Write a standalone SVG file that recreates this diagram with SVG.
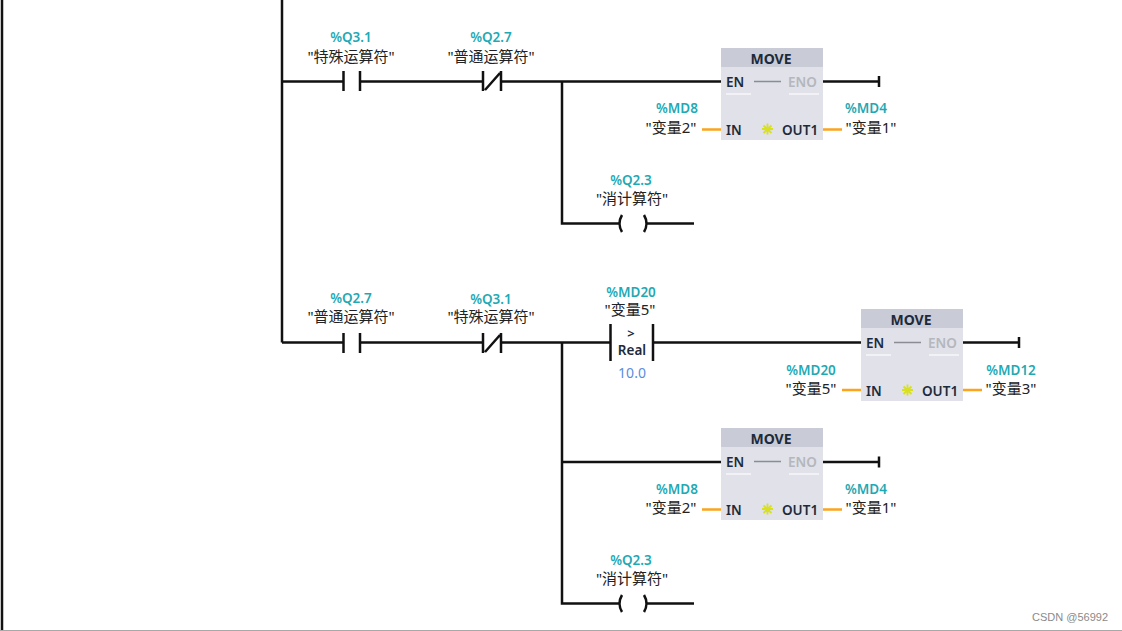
<svg xmlns="http://www.w3.org/2000/svg" width="1122" height="631" viewBox="0 0 1122 631">
<defs>
<style>
text{font-family:"Noto Sans","Noto Sans CJK SC","Liberation Sans",sans-serif}
.w{fill:none;stroke:#111;stroke-width:2.5}
.o{fill:none;stroke:#fca41c;stroke-width:2.5}
.addr{font-size:13.5px;font-weight:600;fill:#1fa9b4;text-anchor:middle}
.name{font-size:15px;fill:#222;text-anchor:middle}
.pin{font-size:13.5px;font-weight:600;fill:#1d2a3a}
.off{font-size:13.5px;font-weight:600;fill:#b4b7bc}
.title{font-size:14px;font-weight:700;fill:#1d2a3a;text-anchor:middle}
</style>
<g id="moveBlock">
<rect x="0" y="0" width="102" height="92" fill="#e0e1e9"/>
<rect x="0" y="0" width="102" height="19" fill="#c9cbd6"/>
<text class="title" x="50" y="16">MOVE</text>
<text class="pin" x="5" y="39">EN</text>
<path d="M33 33.500H60" stroke="#8a8d92" stroke-width="1.500"/>
<text class="off" x="67" y="39">ENO</text>
<path d="M5 46H30M68 46H98" stroke="#f7f7fa" stroke-width="1.500"/>
<text class="pin" x="5" y="87">IN</text>
<text class="pin" x="61" y="87">OUT1</text>
<path d="M41 81H52M46.500 75.500V86.500M42.500 77.500L50.500 85M50.500 77.500L42.500 85" stroke="#d8e020" stroke-width="1.800"/>
</g>
</defs>
<rect width="1122" height="631" fill="#fff"/>
<g id="connectors">
<path class="w" d="M2 0V631M282 0V342.500M282 81.500H344M360 81.500H483M501 81.500H721M562 81.500V223.500H619M647 223.500H694M823 81.500H879M879 76V87"/>
<path class="w" d="M282 342.500H344M360 342.500H483M501 342.500H610M653 342.500H861M963 342.500H1019M1019 337V348M562 342.500V603.500H619M647 603.500H694M562 462H721M823 462H879M879 456.500V467.500"/>
<path class="o" d="M702 129.500H721M823 129.500H842M842 390H861M963 390H982M702 509.500H721M823 509.500H842"/>
</g>
<g id="contact-q31">
<text class="addr" x="351" y="42">%Q3.1</text><text class="name" x="351" y="62">"特殊运算符"</text>
<path class="w" d="M343.500 71V91M360 71V91"/>
</g>
<g id="contact-q27-nc">
<text class="addr" x="491" y="42">%Q2.7</text><text class="name" x="491" y="62">"普通运算符"</text>
<path class="w" d="M483 71V91M501 71V91M485 90L500 73"/>
</g>
<g id="block-1"><use href="#moveBlock" x="721" y="48"/>
<text class="addr" x="677" y="113">%MD8</text><text class="name" x="671" y="133">"变量2"</text>
<text class="addr" x="866" y="113">%MD4</text><text class="name" x="871" y="133">"变量1"</text>
</g>
<g id="coil-1">
<text class="addr" x="631" y="185">%Q2.3</text><text class="name" x="632" y="204">"消计算符"</text>
<path class="w" d="M622 215Q617 223.500 622 232M644 215Q649 223.500 644 232"/>
</g>
<g id="contact-q27">
<text class="addr" x="351" y="303">%Q2.7</text><text class="name" x="351" y="322">"普通运算符"</text>
<path class="w" d="M343.500 333V353M360 333V353"/>
</g>
<g id="contact-q31-nc">
<text class="addr" x="491" y="304">%Q3.1</text><text class="name" x="491" y="322">"特殊运算符"</text>
<path class="w" d="M483 333V353M501 333V353M485 352L500 335"/>
</g>
<g id="compare">
<text class="addr" x="631" y="297">%MD20</text><text class="name" x="630" y="315">"变量5"</text>
<path class="w" d="M610.500 324V361M653 324V361"/>
<text x="631" y="338" font-size="13" font-weight="600" fill="#1d2a3a" text-anchor="middle">&gt;</text>
<text x="632" y="355" font-size="13.500" font-weight="600" fill="#1d2a3a" text-anchor="middle">Real</text>
<text x="632" y="378" font-size="14" fill="#5b8de0" text-anchor="middle">10.0</text>
</g>
<g id="block-2"><use href="#moveBlock" x="861" y="309"/>
<text class="addr" x="811" y="375">%MD20</text><text class="name" x="811" y="394">"变量5"</text>
<text class="addr" x="1011" y="375">%MD12</text><text class="name" x="1011" y="394">"变量3"</text>
</g>
<g id="block-3"><use href="#moveBlock" x="721" y="428"/>
<text class="addr" x="677" y="494">%MD8</text><text class="name" x="671" y="513">"变量2"</text>
<text class="addr" x="866" y="494">%MD4</text><text class="name" x="871" y="513">"变量1"</text>
</g>
<g id="coil-2">
<text class="addr" x="631" y="565">%Q2.3</text><text class="name" x="632" y="584">"消计算符"</text>
<path class="w" d="M622 595Q617 603.500 622 612M644 595Q649 603.500 644 612"/>
</g>
<path d="M0 630.500H1122" stroke="#a8a8a8" stroke-width="1"/>
<text x="1108" y="621" font-size="11" fill="#8a8a8a" text-anchor="end" style="font-family:'Liberation Sans',sans-serif">CSDN @56992</text>
</svg>
